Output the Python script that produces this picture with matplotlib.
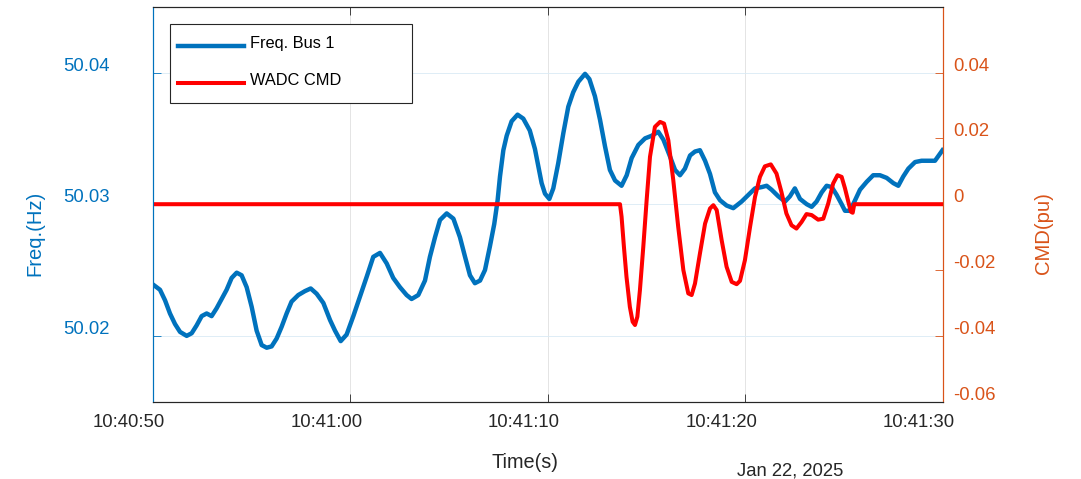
import numpy as np
import matplotlib
matplotlib.use('Agg')
import matplotlib.pyplot as plt
import matplotlib.transforms as mtransforms

plt.rcParams['font.family'] = ['Liberation Sans', 'DejaVu Sans']

start_time = '2025-01-22T10:40:50'
date_label = 'Jan 22, 2025'
tick_labels = ['10:40:50', '10:41:00', '10:41:10', '10:41:20', '10:41:30']
freq_ticks = [50.02, 50.03, 50.04]
freq_tick_labels = ['50.02', '50.03', '50.04']
cmd_ticks = [-0.06, -0.04, -0.02, 0, 0.02, 0.04]
cmd_tick_labels = ['-0.06', '-0.04', '-0.02', '0', '0.02', '0.04']

# seconds after start_time
freq_t = [0.0, 0.355, 0.61, 0.86, 1.115, 1.37, 1.706, 1.96, 2.212, 2.466, 2.72, 2.97, 3.225,
          3.48, 3.73, 3.985, 4.24, 4.49, 4.745, 5.0, 5.25, 5.506, 5.76, 6.01, 6.265, 6.52,
          6.77, 7.02, 7.36, 7.70, 7.99, 8.29, 8.63, 8.97, 9.22, 9.51, 9.81, 10.15, 10.49,
          10.83, 11.16, 11.50, 11.84, 12.17, 12.51, 12.85, 13.10, 13.44, 13.78, 14.03, 14.29,
          14.54, 14.88, 15.22, 15.55, 15.81, 16.06, 16.31, 16.57, 16.82, 17.07, 17.29, 17.46,
          17.58, 17.75, 17.92, 18.17, 18.47, 18.76, 19.09, 19.35, 19.69, 19.86, 20.08, 20.28,
          20.53, 20.79, 21.04, 21.29, 21.55, 21.89, 22.11, 22.39, 22.65, 22.90, 23.15, 23.41,
          23.74, 24.00, 24.25, 24.59, 24.93, 25.27, 25.60, 25.86, 26.20, 26.45, 26.70, 26.95,
          27.21, 27.46, 27.71, 27.97, 28.22, 28.47, 28.73, 29.06, 29.40, 29.82, 30.16, 30.50,
          30.84, 31.09, 31.34, 31.68, 32.02, 32.27, 32.52, 32.78, 33.12, 33.37, 33.62, 33.88,
          34.13, 34.39, 34.64, 34.89, 35.06, 35.31, 35.57, 35.82, 36.16, 36.49, 36.83, 37.17,
          37.51, 37.76, 38.01, 38.27, 38.61, 38.94, 39.28, 39.62, 40.0]
freq_hz = [50.0239, 50.0235, 50.0227, 50.0217, 50.0209, 50.0203, 50.0200, 50.0202, 50.0208,
           50.0215, 50.0217, 50.0215, 50.0221, 50.0228, 50.0235, 50.0244, 50.0248, 50.0246,
           50.0237, 50.0222, 50.0204, 50.0193, 50.0191, 50.0192, 50.0198, 50.0207, 50.0217,
           50.0226, 50.0231, 50.0234, 50.0236, 50.0232, 50.0225, 50.0212, 50.0204, 50.0196,
           50.0201, 50.0215, 50.0230, 50.0245, 50.0260, 50.0263, 50.0255, 50.0244, 50.0237,
           50.0231, 50.0228, 50.0231, 50.0242, 50.0260, 50.0275, 50.0288, 50.0293, 50.0289,
           50.0275, 50.0260, 50.0246, 50.0240, 50.0242, 50.0250, 50.0268, 50.0285, 50.0303,
           50.0321, 50.0341, 50.0352, 50.0363, 50.0368, 50.0365, 50.0356, 50.0342, 50.0316,
           50.0308, 50.0304, 50.0312, 50.0331, 50.0354, 50.0374, 50.0385, 50.0393, 50.0399,
           50.0395, 50.0382, 50.0364, 50.0344, 50.0326, 50.0318, 50.0314, 50.0322, 50.0335,
           50.0345, 50.0350, 50.0352, 50.0355, 50.0349, 50.0336, 50.0326, 50.0322, 50.0327,
           50.0337, 50.0340, 50.0341, 50.0333, 50.0323, 50.0309, 50.0303, 50.0299, 50.0297,
           50.0302, 50.0307, 50.0312, 50.0313, 50.0314, 50.0311, 50.0306, 50.0302, 50.0306,
           50.0312, 50.0304, 50.0300, 50.0298, 50.0302, 50.0309, 50.0314, 50.0313, 50.0307,
           50.0300, 50.0295, 50.0295, 50.0303, 50.0311, 50.0317, 50.0322, 50.0322, 50.0320,
           50.0316, 50.0314, 50.0321, 50.0327, 50.0332, 50.0333, 50.0333, 50.0333, 50.0341]

cmd_t = [0.0, 23.66, 23.74, 23.86, 23.99, 24.16, 24.30, 24.42, 24.54, 24.67, 24.84, 25.01,
         25.18, 25.43, 25.69, 25.89, 26.11, 26.36, 26.61, 26.87, 27.12, 27.29, 27.46, 27.71,
         27.97, 28.22, 28.39, 28.56, 28.81, 29.06, 29.32, 29.57, 29.74, 29.99, 30.25, 30.50,
         30.75, 31.00, 31.30, 31.59, 31.84, 32.09, 32.35, 32.60, 32.86, 33.11, 33.37, 33.70,
         33.96, 34.21, 34.46, 34.68, 34.89, 35.06, 35.23, 35.36, 35.45, 35.53, 40.0]
cmd_pu = [0.0, 0.0, -0.0038, -0.0130, -0.0221, -0.0312, -0.0357, -0.0367, -0.0342, -0.0261,
          -0.0130, 0.0012, 0.0144, 0.0235, 0.0250, 0.0245, 0.0194, 0.0073, -0.0069, -0.0200,
          -0.0271, -0.0276, -0.0241, -0.0150, -0.0059, -0.0013, -0.0003, -0.0018, -0.0109,
          -0.0190, -0.0236, -0.0243, -0.0233, -0.0170, -0.0069, 0.0022, 0.0083, 0.0115, 0.0121,
          0.0093, 0.0037, -0.0028, -0.0064, -0.0074, -0.0054, -0.0030, -0.0033, -0.0047,
          -0.0044, 0.0002, 0.0063, 0.0088, 0.0083, 0.0048, 0.0007, -0.0023, -0.0026, 0.0, 0.0]

blue = '#0072BD'
orange = '#D95319'
dark = '#262626'

t0 = np.datetime64(start_time)


def to_time(sec):
    return t0 + (np.array(sec) * 1000).astype('timedelta64[ms]')


fig = plt.figure(figsize=(10.81, 4.79), dpi=100)
ax = fig.add_axes([153 / 1081, 1 - 401.7 / 479, 789.5 / 1081, 395 / 479])
ax2 = ax.twinx()

l1, = ax.plot(to_time(freq_t), freq_hz, color=blue, lw=3.2, solid_joinstyle='round')
l2, = ax2.plot(to_time(cmd_t), cmd_pu, color='red', lw=2.9, solid_joinstyle='round')

tick_pos = [np.datetime64(start_time[:11] + s) for s in tick_labels]
ax.set_xlim(tick_pos[0], tick_pos[-1])
ax.set_xticks(tick_pos)
ax.set_xticklabels(tick_labels)

ax.set_ylim(50.015, 50.045)
ax.set_yticks(freq_ticks)
ax.set_yticklabels(freq_tick_labels)
ax2.set_ylim(-0.06, 0.06)
ax2.set_yticks(cmd_ticks)
ax2.set_yticklabels(cmd_tick_labels)

ax.tick_params(axis='x', direction='in', length=5.8, width=0.6, color=dark,
               labelcolor=dark, labelsize=13.3, pad=9.2, top=True)
ax.tick_params(axis='y', direction='in', length=5.8, width=0.6, color=blue,
               labelcolor=blue, labelsize=13.3, pad=31)
ax2.tick_params(axis='y', direction='in', length=5.8, width=0.6, color=orange,
                labelcolor=orange, labelsize=13.3, pad=7.8)

for a in (ax, ax2):
    a.spines['top'].set_color(dark)
    a.spines['bottom'].set_color(dark)
    a.spines['left'].set_color(blue)
    a.spines['right'].set_color(orange)
    for s in a.spines.values():
        s.set_linewidth(0.8)

ax.set_axisbelow(True)
ax.grid(True, axis='x', color='#dfdfdf', lw=0.6)
ax.grid(True, axis='y', color='#d9eaf5', lw=0.6)

ax.set_xlabel('Time(s)', fontsize=14.3, color=dark)
ax.xaxis.set_label_coords(0.471, -0.1306)
ax.set_ylabel('Freq.(Hz)', fontsize=14.6, color=blue)
ax.yaxis.set_label_coords(-0.138, 0.427)
ax2.set_ylabel('CMD(pu)', fontsize=14.6, color=orange)
ax2.yaxis.set_label_coords(1.116, 0.427)

ax.text(0.8068, -0.1856, date_label, transform=ax.transAxes, ha='center',
        va='baseline', fontsize=13.3, color=dark)

leg = ax2.legend([l1, l2], ['Freq. Bus 1', 'WADC CMD'], loc='upper left',
                 bbox_to_anchor=(0.0215, 0.7554, 0.306, 0.2006), mode='expand',
                 borderaxespad=0, fontsize=11.8, handlelength=4.05, handletextpad=0,
                 borderpad=0.82, labelspacing=1.35, fancybox=False,
                 framealpha=1, edgecolor=dark)
leg.get_frame().set_linewidth(0.8)

# nudge legend handles and texts, the matlab legend is laid out a bit differently
px = fig.dpi_scale_trans
for h in leg.legend_handles:
    h.set_transform(h.get_transform() + mtransforms.ScaledTranslation(-0.056, -0.018, px))
for txt in leg.get_texts():
    txt.set_transform(txt.get_transform() + mtransforms.ScaledTranslation(0, 0.02, px))

# tick labels in the original sit a bit off their ticks
dx = mtransforms.ScaledTranslation(-0.24, 0, px)
dy = mtransforms.ScaledTranslation(0, 0.085, px)
for lab in ax.get_xticklabels():
    lab.set_transform(lab.get_transform() + dx)
for lab in ax.get_yticklabels() + ax2.get_yticklabels():
    lab.set_transform(lab.get_transform() + dy)

fig.savefig('out.png', dpi=100)
